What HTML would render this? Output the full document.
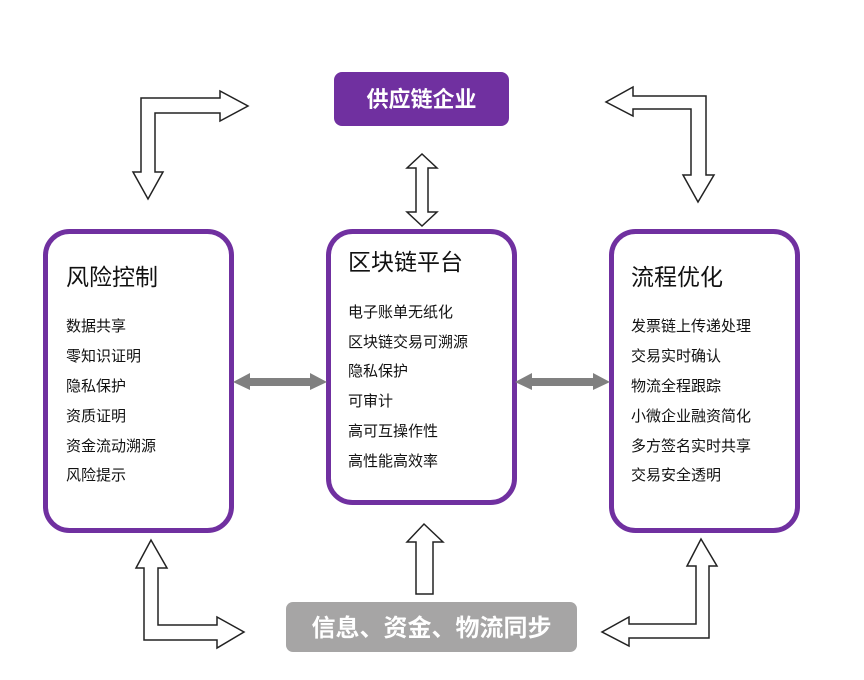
<!DOCTYPE html>
<html><head><meta charset="utf-8"><style>
html,body{margin:0;padding:0;background:#fff;}
svg{display:block;font-family:"Liberation Sans","Noto Sans CJK SC",sans-serif;}
</style></head><body>
<svg width="864" height="680" viewBox="0 0 864 680" xmlns="http://www.w3.org/2000/svg">
<rect width="864" height="680" fill="#fff"/>
<!-- boxes -->
<rect x="45.5" y="231.5" width="186" height="299" rx="24" fill="#fff" stroke="#7030a0" stroke-width="5"/>
<rect x="328.5" y="231.5" width="186" height="271" rx="24" fill="#fff" stroke="#7030a0" stroke-width="5"/>
<rect x="611.5" y="231.5" width="186" height="299" rx="24" fill="#fff" stroke="#7030a0" stroke-width="5"/>
<rect x="334" y="72" width="175" height="54" rx="8" fill="#7030a0"/>
<text x="421.5" y="107" font-size="22" font-weight="bold" fill="#fff" text-anchor="middle">供应链企业</text>
<rect x="286" y="602" width="291" height="50" rx="7" fill="#a6a5a5"/>
<text x="431.5" y="636" font-size="24" font-weight="bold" fill="#fff" text-anchor="middle">信息、资金、物流同步</text>
<!-- titles -->
<g font-size="23" fill="#111">
<text x="66" y="285">风险控制</text>
<text x="348" y="270">区块链平台</text>
<text x="631" y="285">流程优化</text>
</g>
<g font-size="15" fill="#111">
<text x="66" y="331">数据共享</text>
<text x="66" y="361">零知识证明</text>
<text x="66" y="391">隐私保护</text>
<text x="66" y="421">资质证明</text>
<text x="66" y="451">资金流动溯源</text>
<text x="66" y="480">风险提示</text>
<text x="348" y="317">电子账单无纸化</text>
<text x="348" y="347">区块链交易可溯源</text>
<text x="348" y="376">隐私保护</text>
<text x="348" y="406">可审计</text>
<text x="348" y="436">高可互操作性</text>
<text x="348" y="466">高性能高效率</text>
<text x="631" y="331">发票链上传递处理</text>
<text x="631" y="361">交易实时确认</text>
<text x="631" y="391">物流全程跟踪</text>
<text x="631" y="421">小微企业融资简化</text>
<text x="631" y="451">多方签名实时共享</text>
<text x="631" y="480">交易安全透明</text>
</g>
<!-- gray double arrows -->
<polygon points="233,382 250,373 250,378 310,378 310,373 327,382 310,390 310,386 250,386 250,390" fill="#808080"/>
<polygon points="515,382 532,373 532,378 593,378 593,373 610,382 593,390 593,386 532,386 532,390" fill="#808080"/>
<!-- outline arrows -->
<g fill="#fff" stroke="#222" stroke-width="1.5" stroke-linejoin="miter">
<polygon points="141,98 220,98 220,91 248,106 220,121 220,113 155,113 155,172 163,172 148,199 133,172 141,172"/>
<polygon points="706,96 633,96 633,87 606,102 633,116 633,109 691,109 691,175 683,175 698,202 714,175 706,175"/>
<polygon points="416,168 407,168 422,154 437,168 428,168 428,212 437,212 422,226 407,212 416,212"/>
<polygon points="416,594 416,542 407,542 424,524 443,542 433,542 433,594"/>
<polygon points="144,568 136,568 151,540 167,568 158,568 158,625 217,625 217,617 244,632 217,648 217,640 144,640"/>
<polygon points="696,566 687,566 701,539 717,566 709,566 709,638 629,638 629,646 602,632 629,617 629,624 696,624"/>
</g>
</svg>
</body></html>
